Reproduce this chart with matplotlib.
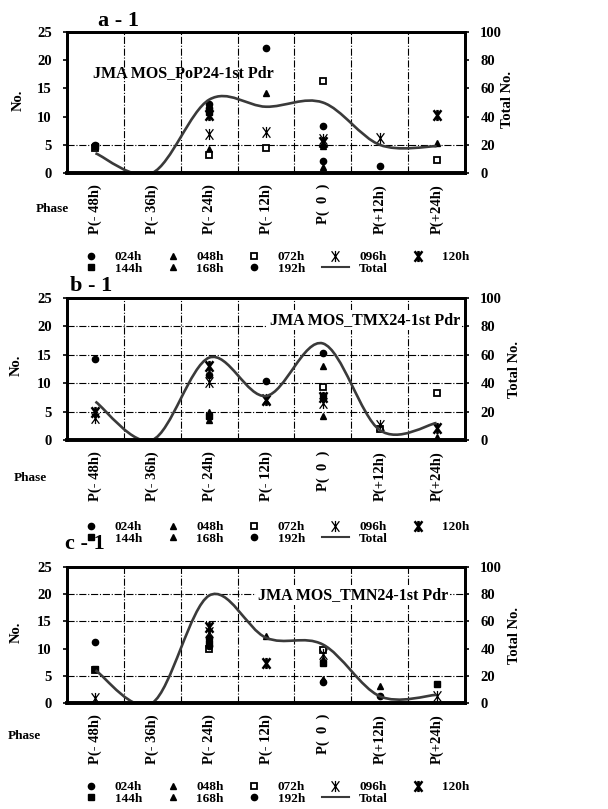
import numpy as np
import matplotlib
matplotlib.use("Agg")
import matplotlib.pyplot as plt
from matplotlib.path import Path
from matplotlib.patches import PathPatch
from matplotlib.lines import Line2D

plt.rcParams['font.family'] = ['Liberation Serif', 'DejaVu Serif']
plt.rcParams['font.weight'] = 'bold'

nan = np.nan

# ---------------- data ----------------
phases = ["P(- 48h)", "P(- 36h)", "P(- 24h)", "P(- 12h)", "P(  0  )", "P(+12h)", "P(+24h)"]
series_names = ["024h", "048h", "072h", "096h", "120h", "144h", "168h", "192h"]

titles = ["JMA MOS_PoP24-1st Pdr", "JMA MOS_TMX24-1st Pdr", "JMA MOS_TMN24-1st Pdr"]
panel_labels = ["a - 1", "b - 1", "c - 1"]

# panel a : PoP24
pop_024 = [5.0, nan, 12.3, 22.2, 8.3, 1.3, nan]
pop_048 = [nan, nan, 4.2, 14.2, 4.7, nan, 5.3]
pop_072 = [4.5, nan, 3.2, 4.5, 16.3, nan, 2.3]
pop_096 = [nan, nan, 7.0, 7.2, 6.0, 6.2, nan]
pop_120 = [nan, nan, 10.2, nan, 5.5, nan, 10.2]
pop_144 = [4.8, nan, 10.8, nan, nan, nan, nan]
pop_168 = [nan, nan, nan, nan, 1.0, nan, nan]
pop_192 = [nan, nan, 11.6, nan, 2.2, nan, nan]
pop_total = [14, 0, 52, 47, 50, 20, 19]

# panel b : TMX24
tmx_024 = [14.3, nan, nan, 10.3, 15.4, nan, nan]
tmx_048 = [nan, nan, 4.9, nan, 13.1, nan, nan]
tmx_072 = [nan, nan, nan, nan, 9.3, 2.0, 8.3]
tmx_096 = [3.8, nan, 10.2, 7.2, 6.5, 2.6, nan]
tmx_120 = [4.9, nan, 13.0, 7.0, 7.5, nan, 2.2]
tmx_144 = [nan, nan, 4.2, nan, 7.8, nan, nan]
tmx_168 = [nan, nan, 3.6, nan, 4.2, nan, 0.6]
tmx_192 = [nan, nan, 11.5, nan, nan, nan, nan]
tmx_total = [27, 0, 58, 31, 68, 7, 12]

# panel c : TMN24
tmn_024 = [11.2, nan, 12.0, nan, nan, 1.3, nan]
tmn_048 = [nan, nan, nan, 12.3, 8.0, 3.2, nan]
tmn_072 = [6.0, nan, 10.0, nan, 9.8, nan, nan]
tmn_096 = [1.0, nan, 13.0, nan, 9.0, nan, 1.2]
tmn_120 = [nan, nan, 14.0, 7.3, nan, nan, nan]
tmn_144 = [6.3, nan, 11.0, nan, 7.3, nan, 3.5]
tmn_168 = [nan, nan, nan, nan, 4.5, nan, nan]
tmn_192 = [nan, nan, 10.5, nan, 3.8, nan, nan]
tmn_total = [24, 0, 79, 48, 43, 5, 6]

left_ticks = [0, 5, 10, 15, 20, 25]
right_ticks = [0, 20, 40, 60, 80, 100]

panels = [
    dict(series=[pop_024, pop_048, pop_072, pop_096, pop_120, pop_144, pop_168, pop_192], total=pop_total),
    dict(series=[tmx_024, tmx_048, tmx_072, tmx_096, tmx_120, tmx_144, tmx_168, tmx_192], total=tmx_total),
    dict(series=[tmn_024, tmn_048, tmn_072, tmn_096, tmn_120, tmn_144, tmn_168, tmn_192], total=tmn_total),
]

# ---------------- styles / layout ----------------
W, H = 608, 809
def fx(p): return p / W
def fy(p): return 1 - p / H

star_path = Path([(0, -1), (0, 1), (-0.7, -0.95), (0.7, 0.95), (-0.7, 0.95), (0.7, -0.95)],
                 [Path.MOVETO, Path.LINETO, Path.MOVETO, Path.LINETO, Path.MOVETO, Path.LINETO])

styles = {
    "024h": dict(marker='o', ms=4.5, mfc='k', mec='k'),
    "048h": dict(marker='^', ms=5, mfc='k', mec='k'),
    "072h": dict(marker='s', ms=4.2, mfc='white', mec='k', mew=1.3),
    "096h": dict(marker=star_path, ms=8, mfc='none', mec='k', mew=0.9),
    "120h": dict(marker=star_path, ms=8, mfc='none', mec='k', mew=1.8),
    "144h": dict(marker='s', ms=4.2, mfc='k', mec='k'),
    "168h": dict(marker='^', ms=5, mfc='k', mec='k'),
    "192h": dict(marker='o', ms=4.5, mfc='k', mec='k'),
}

layout = [
    dict(rect=[fx(67), fy(173), fx(465) - fx(67), (173 - 32) / H],
         hgrid=[5], title_xy=(0.065, 0.71), title_ha='left', title_box=False,
         label_xy=(118, 21), phase_xy=(52, 209), no_xy=(18, 100), tot_xy=(507, 100),
         legend_xy=(78, 251)),
    dict(rect=[fx(67), fy(440), fx(465) - fx(67), (440 - 298) / H],
         hgrid=[5, 10, 15, 20], title_xy=(0.987, 0.845), title_ha='right', title_box=True,
         label_xy=(91, 286), phase_xy=(30, 478), no_xy=(16, 365), tot_xy=(514, 370),
         legend_xy=(78, 521)),
    dict(rect=[fx(67), fy(703), fx(465) - fx(67), (703 - 567) / H],
         hgrid=[5, 15, 20], title_xy=(0.957, 0.794), title_ha='right', title_box=True,
         label_xy=(85, 544), phase_xy=(24, 736), no_xy=(16, 632), tot_xy=(514, 635),
         legend_xy=(78, 781)),
]


def smooth_path(xs, ys):
    """Excel-style smoothed line (Catmull-Rom Bezier) through the points."""
    pts = np.column_stack([xs, ys]).astype(float)
    n = len(pts)
    verts = [tuple(pts[0])]
    codes = [Path.MOVETO]
    for i in range(n - 1):
        p0 = pts[i - 1] if i > 0 else pts[i]
        p1 = pts[i]
        p2 = pts[i + 1]
        p3 = pts[i + 2] if i + 2 < n else pts[i + 1]
        c1 = p1 + (p2 - p0) / 6.0
        c2 = p2 - (p3 - p1) / 6.0
        verts += [tuple(c1), tuple(c2), tuple(p2)]
        codes += [Path.CURVE4] * 3
    return Path(verts, codes)


fig = plt.figure(figsize=(W / 100, H / 100), dpi=100)
x = np.arange(len(phases))
line_color = '#3a3a3a'

for k, (pan, lay) in enumerate(zip(panels, layout)):
    ax = fig.add_axes(lay['rect'])
    ax.set_xlim(-0.5, len(phases) - 0.5)
    ax.set_ylim(0, 25)
    ax.set_yticks(left_ticks)
    ax.set_xticks(x)
    ax.set_xticklabels(phases, rotation=90, fontsize=10.5, fontweight='bold')
    ax.tick_params(axis='x', length=0, pad=8)
    ax.tick_params(axis='y', length=3, width=1.2, pad=8, labelsize=10.5)
    for s in ax.spines.values():
        s.set_linewidth(2.0)
    ax.spines['bottom'].set_linewidth(2.6)

    # grid
    for xv in np.arange(0.5, len(phases) - 0.5, 1.0):
        ax.axvline(xv, color='k', lw=0.8, ls='-.', zorder=0.5)
    for yv in lay['hgrid']:
        ax.axhline(yv, color='k', lw=0.8, ls='-.', zorder=0.5)

    for name, vals in zip(series_names, pan['series']):
        ax.plot(x, vals, ls='none', zorder=3, **styles[name])

    ax.text(lay['title_xy'][0], lay['title_xy'][1], titles[k], transform=ax.transAxes,
            ha=lay['title_ha'], va='center', fontsize=11.5, fontweight='bold', zorder=4,
            bbox=dict(facecolor='white', edgecolor='none', pad=1.5) if lay['title_box'] else None)

    ax2 = ax.twinx()
    ax2.set_ylim(0, 100)
    ax2.set_yticks(right_ticks)
    ax2.tick_params(axis='y', length=3, width=1.2, pad=8, labelsize=10.5)
    for s in ax2.spines.values():
        s.set_linewidth(2.0)
    ax2.spines['bottom'].set_linewidth(2.6)
    patch = PathPatch(smooth_path(x, pan['total']), facecolor='none', edgecolor=line_color,
                      lw=1.9, transform=ax2.transData, zorder=2)
    ax2.add_patch(patch)

    fig.text(fx(lay['label_xy'][0]), fy(lay['label_xy'][1]), panel_labels[k],
             ha='center', va='center', fontsize=16, fontweight='bold')
    fig.text(fx(lay['phase_xy'][0]), fy(lay['phase_xy'][1]), "Phase",
             ha='center', va='center', fontsize=9.5, fontweight='bold')
    fig.text(fx(lay['no_xy'][0]), fy(lay['no_xy'][1]), "No.", rotation=90,
             ha='center', va='center', fontsize=10.5, fontweight='bold')
    fig.text(fx(lay['tot_xy'][0]), fy(lay['tot_xy'][1]), "Total No.", rotation=90,
             ha='center', va='center', fontsize=10.5, fontweight='bold')

    # legend (column-major ordering so rows read 024..120 / 144..Total)
    h = {n: Line2D([], [], ls='none', **styles[n]) for n in series_names}
    h_total = Line2D([], [], color=line_color, lw=1.5)
    order = ["024h", "144h", "048h", "168h", "072h", "192h", "096h", "Total", "120h"]
    handles = [h_total if n == "Total" else h[n] for n in order]
    fig.legend(handles, order, ncol=5, loc='upper left',
               bbox_to_anchor=(fx(lay['legend_xy'][0]), fy(lay['legend_xy'][1])),
               frameon=False, handlelength=2.0, handletextpad=0.8,
               columnspacing=1.3, labelspacing=-0.05, borderpad=0, borderaxespad=0,
               prop=dict(weight='bold', size=9.5))

fig.savefig("out.png", dpi=100, facecolor='white')
